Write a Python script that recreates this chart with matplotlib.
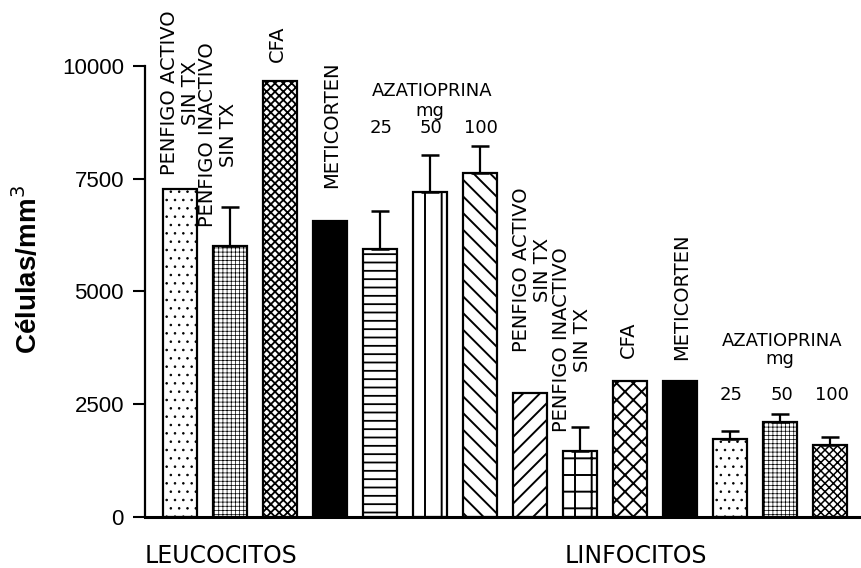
import numpy as np
import matplotlib
matplotlib.use('Agg')
import matplotlib.pyplot as plt

# células/mm3, media y error (solo hacia arriba)
leuco = [7270, 6000, 9670, 6560, 5950, 7200, 7630]
leuco_err = [0, 870, 0, 0, 840, 820, 600]
linfo = [2750, 1460, 3010, 3010, 1730, 2110, 1600]
linfo_err = [0, 530, 0, 0, 180, 180, 180]

grupos = ['PENFIGO ACTIVO\nSIN TX', 'PENFIGO INACTIVO\nSIN TX', 'CFA', 'METICORTEN']
dosis = ['25', '50', '100']
celulas = ['LEUCOCITOS', 'LINFOCITOS']
yticks = [0, 2500, 5000, 7500, 10000]

values = np.array(leuco + linfo)
errors = np.array(leuco_err + linfo_err)
x = np.arange(len(values))

# relleno de cada barra y grosor de la trama
hatches = ['..', '++++', 'xxxx', '', '--', '|', '\\\\',
           '//', '+', 'xx', '', '..', '++++', 'xxxx']
hatch_lw = [0.6, 0.5, 1.3, 1.0, 1.3, 1.4, 1.4,
            1.4, 1.4, 1.4, 1.0, 0.6, 0.5, 1.1]
fills = ['white'] * len(values)
fills[3] = 'black'
fills[10] = 'black'

fig = plt.figure(figsize=(8.62, 5.68), dpi=100)
ax = fig.add_axes([0.168, 0.09, 0.832, 0.794])

bars = ax.bar(x, values, width=0.68, color='white', edgecolor='black', linewidth=1.6)
for i, b in enumerate(bars):
    b.set_facecolor(fills[i])
    b.set_hatch(hatches[i])
    if hasattr(b, 'set_hatch_linewidth'):
        b.set_hatch_linewidth(hatch_lw[i])

m = errors > 0
ax.errorbar(x[m], values[m], yerr=[np.zeros(m.sum()), errors[m]], fmt='none',
            ecolor='black', elinewidth=1.6, capsize=6.5, capthick=1.8)

ax.set_xlim(-0.7, 13.64)
ax.set_ylim(0, 10000)
ax.set_xticks([])
ax.set_yticks(yticks)
ax.set_yticklabels([str(t) for t in yticks], fontsize=16, family='Liberation Sans')
ax.tick_params(axis='y', length=9, width=1.5, pad=6)
for s in ['top', 'right']:
    ax.spines[s].set_visible(False)
ax.spines['left'].set_linewidth(1.6)
ax.spines['bottom'].set_linewidth(2.2)

fig.text(0.032, 0.525, 'Células/mm$^3$', rotation=90, ha='center', va='center',
         fontsize=20, fontweight='bold', family='Liberation Sans')

vt = dict(rotation=90, ha='center', va='bottom', multialignment='center',
          fontsize=14, linespacing=1.1, family='DejaVu Sans', clip_on=False)
ht = dict(ha='center', va='baseline', fontsize=13, family='DejaVu Sans', clip_on=False)

# (desplazamiento en x, base del texto) para cada grupo
pos_leuco = [(0.0, 7580), (-0.24, 6430), (-0.04, 10090), (0.04, 7295)]
pos_linfo = [(0.04, 3660), (-0.16, 1885), (-0.04, 3525), (0.04, 3480)]
for k, txt in enumerate(grupos):
    dx, yb = pos_leuco[k]
    ax.text(k + dx, yb, txt, **vt)
    dx, yb = pos_linfo[k]
    ax.text(7 + k + dx, yb, txt, **vt)

# azatioprina
for start, y0, y1, y2 in [(4, 9330, 8880, 8514), (11, 3800, 3380, 2594)]:
    ax.text(start + 1.05, y0, 'AZATIOPRINA', **ht)
    ax.text(start + 1.0, y1, 'mg', **ht)
    for j, d in enumerate(dosis):
        ax.text(start + j + 0.03, y2, d, **ht)

fig.text(221 / 862, 1 - 563 / 568, celulas[0], ha='center', va='baseline',
         fontsize=17, family='DejaVu Sans')
fig.text(636 / 862, 1 - 563 / 568, celulas[1], ha='center', va='baseline',
         fontsize=17, family='DejaVu Sans')

fig.savefig('out.png', dpi=100)
